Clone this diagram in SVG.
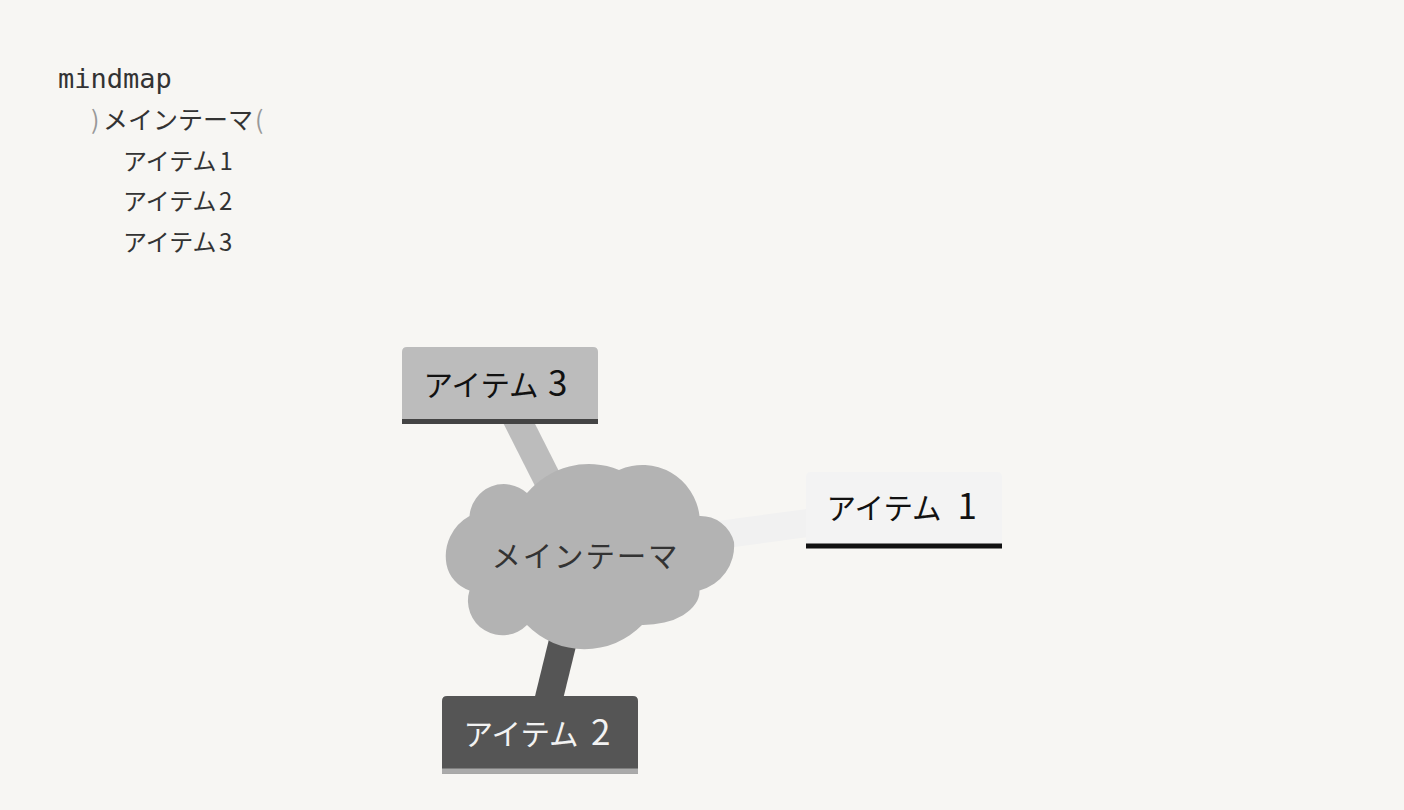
<svg xmlns="http://www.w3.org/2000/svg" width="1404" height="810" viewBox="0 0 1404 810">
<defs>
<style>
.code{font-family:"DejaVu Sans Mono","Liberation Mono",monospace;font-size:27px;fill:#333}
.jp{font-family:"Noto Sans CJK JP","Noto Sans",sans-serif;fill:#333}
.paren{fill:#999}
.lbl{font-family:"Noto Sans CJK JP","Noto Sans",sans-serif;font-size:29.5px}
.dg{font-size:35px}
.edge{fill:none;stroke-width:28;stroke-linecap:butt}
</style>
</defs>
<rect width="1404" height="810" fill="#f7f6f3"/>
<g id="code">
<text class="code" x="58" y="88">mindmap</text>
<text class="jp" y="129" font-size="25"><tspan class="paren" x="91">)</tspan><tspan x="103">メインテーマ</tspan><tspan class="paren" x="255">(</tspan></text>
<text class="jp" x="123" y="169.5" font-size="24">アイテム<tspan x="219.5">1</tspan></text>
<text class="jp" x="123" y="210" font-size="24">アイテム<tspan x="219">2</tspan></text>
<text class="jp" x="123" y="250.5" font-size="24">アイテム<tspan x="219">3</tspan></text>
</g>
<g id="connectors">
<line class="edge" x1="584.5" y1="553" x2="904" y2="510" stroke="#f1f1f1"/>
<line class="edge" x1="584.5" y1="553" x2="540" y2="734.5" stroke="#555555"/>
<line class="edge" x1="584.5" y1="553" x2="500" y2="385.5" stroke="#bcbcbc"/>
</g>
<g id="node-root">
<path d="M469.5 516 a34.5,34.5 0 0,1 57.5,-23 a80.5,80.5 1 0,1 92,-23 a57.5,57.5 1 0,1 80.5,46 a34.5,34.5 1 0,1 34.5,26.075 a46,46 1 0,1 -34.5,48.425 a57.5,34.5 1 0,1 -57.5,34.5 a80.5,80.5 1 0,1 -115,0 a34.5,34.5 1 0,1 -57.5,-34.5 a34.5,34.5 1 0,1 -23,-26.075 a46,46 1 0,1 23,-48.425 Z" fill="#b3b3b3"/>
<text class="lbl" x="584.5" y="567" font-size="30" text-anchor="middle" fill="#333" textLength="186" lengthAdjust="spacing">メインテーマ</text>
</g>
<g id="node-item1">
<path d="M806 548.5 V477 Q806 472 811 472 H997 Q1002 472 1002 477 V548.5 Z" fill="#f3f3f3"/>
<rect x="806" y="543.5" width="196" height="5" fill="#111"/>
<text class="lbl" x="826.5" y="519" fill="#111">アイテム<tspan class="dg" x="957.5">1</tspan></text>
</g>
<g id="node-item2">
<path d="M442 773.5 V701 Q442 696 447 696 H633 Q638 696 638 701 V773.5 Z" fill="#555555"/>
<rect x="442" y="768.5" width="196" height="5" fill="#aaaaaa"/>
<text class="lbl" x="463.5" y="745" fill="#f2f2f2">アイテム<tspan class="dg" x="591">2</tspan></text>
</g>
<g id="node-item3">
<path d="M402 424 V352 Q402 347 407 347 H593 Q598 347 598 352 V424 Z" fill="#bcbcbc"/>
<rect x="402" y="419" width="196" height="5" fill="#444"/>
<text class="lbl" x="423.5" y="396" fill="#111">アイテム<tspan class="dg" x="548">3</tspan></text>
</g>
</svg>
